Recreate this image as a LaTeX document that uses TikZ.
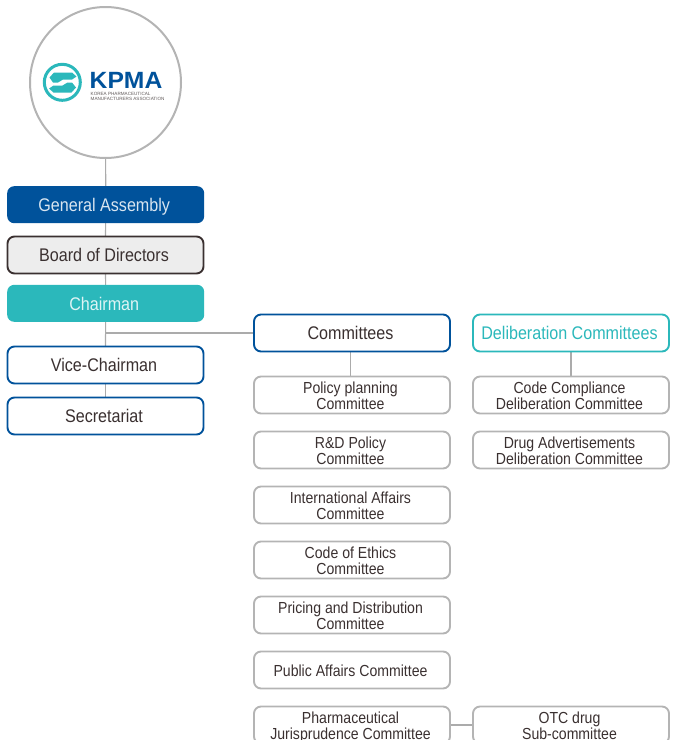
\documentclass[tikz,border=0pt]{standalone}
\usepackage{fontspec}
\setmainfont[FakeStretch=0.88]{Liberation Sans}
\newfontfamily\logofont[FakeStretch=1.05]{Liberation Sans}
\newfontfamily\logosmall{Liberation Sans}
\usetikzlibrary{backgrounds}
\definecolor{kblue}{HTML}{00529B}
\definecolor{kteal}{HTML}{2BB8BB}
\definecolor{kgray}{HTML}{B4B4B4}
\definecolor{kline}{HTML}{ABABAB}
\definecolor{ktext}{HTML}{3A3030}
\tikzset{
  x=1pt,y=-1pt,
  box/.style={rounded corners=7pt,minimum width=196pt,minimum height=37pt,outer sep=0pt,inner sep=0pt,
    text width=196pt,align=flush center,text=ktext,line width=1.9pt},
  bigtext/.style={font=\fontsize{18.3}{20}\selectfont,
    execute at begin node={\advance\rightskip 3pt\relax\rule{0pt}{17.5pt}},
    execute at end node={\rule[-4pt]{0pt}{4pt}}},
  smalltext/.style={font=\fontsize{16}{16}\selectfont,
    execute at begin node={\advance\rightskip 3pt\relax\rule{0pt}{16.5pt}},
    execute at end node={\rule[-3.5pt]{0pt}{3.5pt}}},
  filledbox/.style={box,bigtext,minimum width=197pt,minimum height=37pt},
  subbox/.style={box,draw=kgray,smalltext},
  link/.style={draw=kline,line width=1.2pt},
}
\begin{document}
\begin{tikzpicture}
\useasboundingbox (0,0) rectangle (688,740);
\begin{scope}
\clip (0,0) rectangle (688,740);
\node[circle,draw=kgray,line width=2pt,fill=white,minimum size=151pt,inner sep=0pt,outer sep=0pt] (logo) at (105.5,82.5) {};
% logo mark
\draw[kteal,line width=3pt] (62.3,82.3) circle (18pt);
\fill[kteal] (54,72.5) -- (72,72.5) -- (76.5,76.5) -- (72,79.5) -- (63,79.5) -- (58,82.5) -- (53,82.5) -- (49.5,77.5) -- cycle;
\fill[kteal] (71.5,92.5) -- (53.5,92.5) -- (49,88.5) -- (53.5,85.5) -- (62.5,85.5) -- (67.5,82.5) -- (72,82.5) -- (76,87.5) -- cycle;
\node[inner sep=0pt,text=kblue,anchor=west] (kpma) at (89.5,80.5) {\logofont\bfseries\fontsize{23.5}{24}\selectfont KPMA};
\node[inner sep=0pt,text=ktext!80,anchor=north west,align=left,font=\logosmall\fontsize{4.6}{5}\selectfont] (kpmasub) at (90.5,92.5) {KOREA PHARMACEUTICAL\\MANUFACTURERS ASSOCIATION};

\node[filledbox,fill=kblue,text=white!85!kblue] (ga) at (105.7,204.7) {General Assembly};
\node[box,fill=black!7,draw=ktext,bigtext] (board) at (105.5,255) {Board of Directors};
\node[filledbox,fill=kteal,text=white!85!kteal] (chair) at (105.7,303.3) {Chairman};
\node[box,draw=kblue,fill=white,bigtext] (vice) at (105.5,365) {Vice-Chairman};
\node[box,draw=kblue,fill=white,bigtext] (sec) at (105.5,416) {Secretariat};

\node[box,draw=kblue,fill=white,bigtext] (comm) at (352,333) {Committees};
\node[box,draw=kteal,fill=white,text=kteal,bigtext] (delib) at (571,333) {Deliberation Committees};

\node[subbox] (c1) at (352,395) {Policy planning\\Committee};
\node[subbox] (c2) at (352,450) {R\&D Policy\\Committee};
\node[subbox] (c3) at (352,505) {International Affairs\\Committee};
\node[subbox] (c4) at (352,560) {Code of Ethics\\Committee};
\node[subbox] (c5) at (352,615) {Pricing and Distribution\\Committee};
\node[subbox] (c6) at (352,670) {Public Affairs Committee};
\node[subbox] (c7) at (352,725) {Pharmaceutical\\Jurisprudence Committee};
\node[subbox] (d1) at (571,395) {Code Compliance\\Deliberation Committee};
\node[subbox] (d2) at (571,450) {Drug Advertisements\\Deliberation Committee};
\node[subbox] (s1) at (571,725) {OTC drug\\Sub-committee};
\coordinate (junction) at (105.5,333);
\begin{scope}[on background layer]
\draw[link] (logo) -- (ga);
\draw[link] (ga) -- (board);
\draw[link] (board) -- (chair);
\draw[link] (chair) -- (vice);
\draw[link] (vice) -- (sec);
\draw[link] (junction) -- (comm);
\draw[link] ([xshift=-1.3pt]comm.south) -- ([xshift=-1.3pt]c1.north);
\draw[link] (delib) -- (d1);
\draw[link] (c7) -- (s1);
\end{scope}
\end{scope}
\end{tikzpicture}
\end{document}
